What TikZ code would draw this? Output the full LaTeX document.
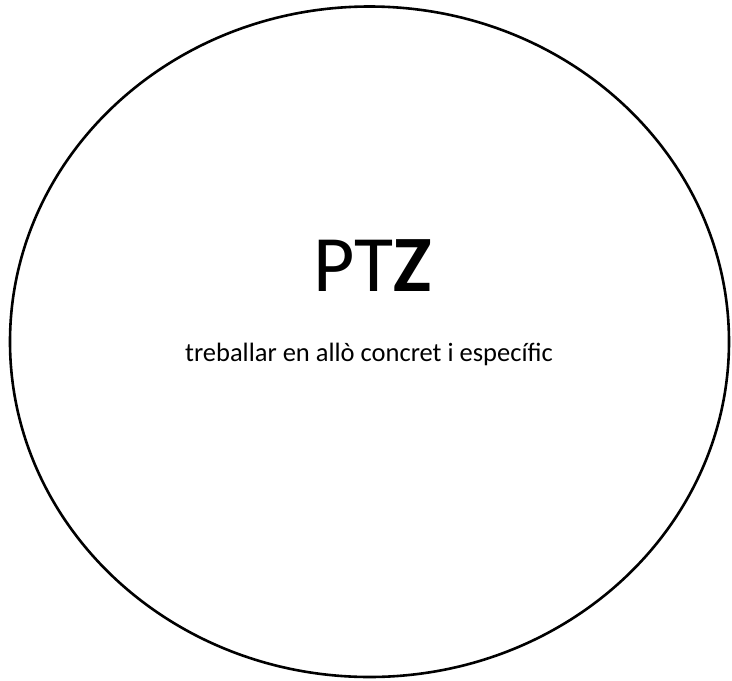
\documentclass[tikz,border=0pt]{standalone}
\usepackage{fontspec}
\setmainfont{Carlito}
\usetikzlibrary{shapes.geometric}
\begin{document}
\begin{tikzpicture}[x=1pt,y=-1pt,
  outline/.style={draw=black,line width=2.6pt},
  bigtitle/.style={font=\fontsize{80}{84}\selectfont,inner sep=0pt},
  subtitle/.style={font=\fontsize{26.5}{30}\selectfont,inner sep=0pt}]
\useasboundingbox (0,0) rectangle (732,681);
\node[outline,ellipse,minimum width=719pt,minimum height=670.5pt,inner sep=0pt] (circ) at (369.5,341.75) {};
\node[bigtitle,anchor=base] (title) at (372.5,291.7) {PT\textbf{Z}};
\node[subtitle,anchor=base] (sub) at (369,361.7) {treballar en allò concret i específic};
\end{tikzpicture}
\end{document}
